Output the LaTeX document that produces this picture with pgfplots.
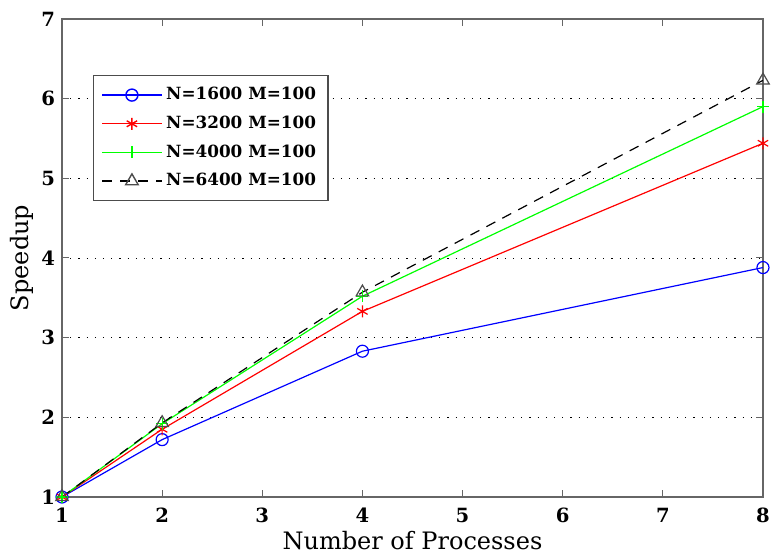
\documentclass[border=0pt]{standalone}
\usepackage{pgfplots}
\pgfplotsset{compat=1.18}
\usepackage{fontspec}
\setmainfont{DejaVu Serif}
\begin{document}
\begin{tikzpicture}
  \begin{axis}[
      scale only axis,
      width=350.5pt, height=239pt,
      xmin=1, xmax=8, ymin=1, ymax=7,
      xtick={1,...,8}, ytick={1,...,7},
      /pgf/number format/assume math mode=true,
      ticklabel style={font=\fontsize{9.8}{11}\selectfont\bfseries},
      xticklabel style={yshift=-2pt},
      xlabel={Number of Processes}, ylabel={Speedup},
      label style={font=\fontsize{12}{14}\selectfont},
      xlabel style={at={(axis description cs:0.5,-0.092)}, anchor=center},
      ylabel style={at={(axis description cs:-0.057,0.5)}, anchor=center},
      ymajorgrids,
      major grid style={black, line width=0.4pt, dash pattern=on 0.6pt off 3.5pt},
      axis line style={black!60, line width=0.6pt},
      tick style={black!60, line width=0.5pt},
      major tick length=3.5pt,
      tick align=inside,
      legend style={at={(axis cs:1.31,6.3)}, anchor=north west,
        draw=black!70, line width=0.6pt,
        font=\fontsize{8.4}{11}\selectfont\bfseries,
        row sep=2.6pt, inner xsep=4pt, inner ysep=4pt},
      legend cell align=left,
      legend image code/.code={%
        \draw[mark repeat=2,mark phase=2,#1,line width=0.7pt] plot coordinates {(0cm,0cm) (0.52cm,0cm) (1.04cm,0cm)};},
      every axis plot/.append style={line width=0.6pt},
    ]
    \addplot[color=blue, mark=o, mark size=3pt, mark options={solid}] coordinates {(1,1) (2,1.72) (4,2.83) (8,3.88)};
    \addlegendentry{N=1600 M=100}
    \addplot[color=red, mark=asterisk, mark size=3pt, mark options={solid}] coordinates {(1,1) (2,1.85) (4,3.33) (8,5.44)};
    \addlegendentry{N=3200 M=100}
    \addplot[color=green, mark=+, mark size=3pt, mark options={solid}] coordinates {(1,1) (2,1.92) (4,3.52) (8,5.90)};
    \addlegendentry{N=4000 M=100}
    \addplot[color=black, dash pattern=on 5pt off 4pt, mark=triangle, mark size=3.6pt, mark options={solid, draw=black!70}] coordinates {(1,1) (2,1.93) (4,3.57) (8,6.23)};
    \addlegendentry{N=6400 M=100}
  \end{axis}
  \pgfresetboundingbox
  \path (current axis.south west) ++(-31pt,-29pt) rectangle ++(385.5pt,277.5pt);
\end{tikzpicture}
\end{document}
